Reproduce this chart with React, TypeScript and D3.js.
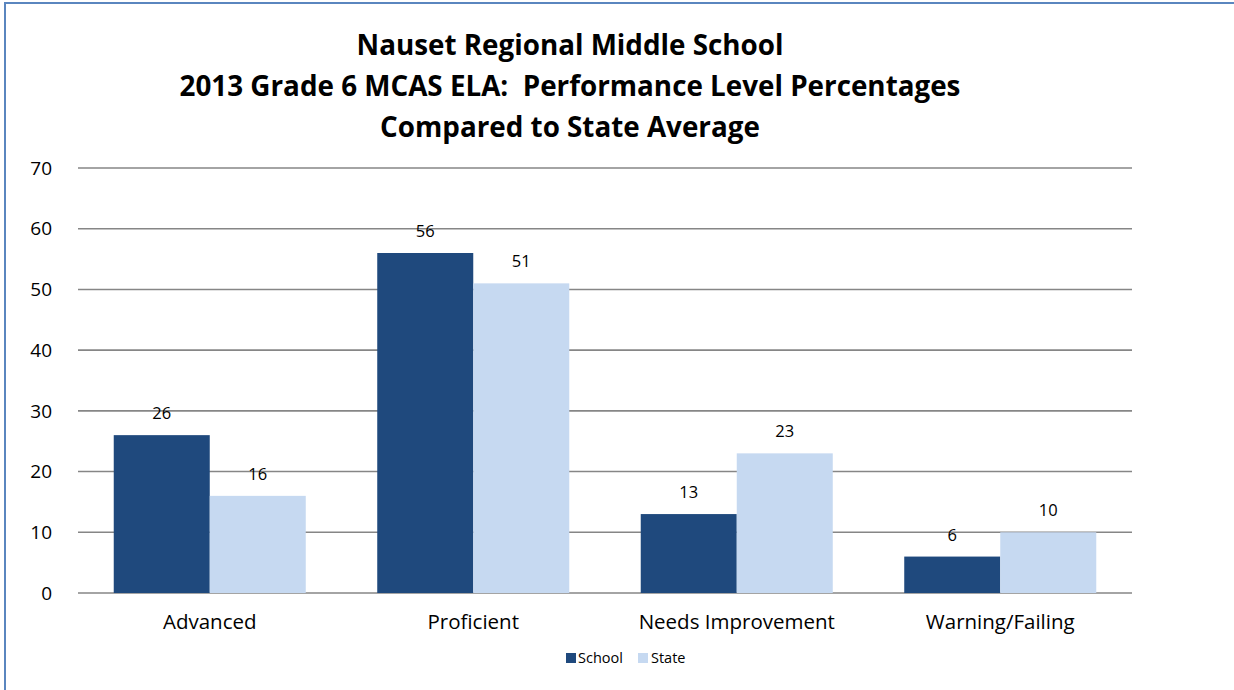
import React from 'react';
import * as d3 from 'd3';

const categories = ['Advanced', 'Proficient', 'Needs Improvement', 'Warning/Failing'];
const seriesNames = ['School', 'State'];
const schoolValues = [26, 56, 13, 6];
const stateValues = [16, 51, 23, 10];
const yTicks = [0, 10, 20, 30, 40, 50, 60, 70];
const titleLines = [
  'Nauset Regional Middle School',
  '2013 Grade 6 MCAS ELA:  Performance Level Percentages',
  'Compared to State Average',
];
const colors = ['#1F497D', '#C6D9F1'];

const width = 1234;
const height = 690;
const font = '"Open Sans", "Noto Sans", sans-serif';

const App = () => {
  const margin = { top: 168, right: 102, bottom: 97, left: 78 };

  const x = d3.scaleBand()
    .domain(categories)
    .range([margin.left, width - margin.right])
    .paddingInner(0.2713)
    .paddingOuter(0.2713 / 2);

  const xSub = d3.scaleBand()
    .domain(seriesNames)
    .range([0, x.bandwidth()]);

  const y = d3.scaleLinear()
    .domain([0, 70])
    .range([height - margin.bottom, margin.top]);

  const series = [schoolValues, stateValues];

  // frame only shows its left and top edges, the rest is cut off
  const frame = d3.path();
  frame.moveTo(5, height + 5);
  frame.lineTo(5, 3);
  frame.lineTo(width + 5, 3);

  return (
    <div style={{ position: 'fixed', left: 0, top: 0, width, height, overflow: 'hidden', background: '#fff' }}>
      <svg width={width} height={height} style={{ display: 'block' }}>
        <path d={frame.toString()} fill="none" stroke="#5A86BF" strokeWidth={2} />

        {/* title */}
        <g fontFamily={font} fontWeight="bold" fontSize={27.8} textAnchor="middle" fill="#000">
          {titleLines.map((t, i) => (
            <text key={i} x={570} y={55 + i * 41} style={{ whiteSpace: 'pre' }}>{t}</text>
          ))}
        </g>

        {/* gridlines + y labels */}
        {yTicks.map(t => (
          <g key={t}>
            <line x1={margin.left} x2={width - margin.right} y1={y(t)} y2={y(t)} stroke="#868686" strokeWidth={1.6} />
            <text x={52} y={y(t)} dy="0.35em" textAnchor="end" fontFamily={font} fontSize={19} fill="#000">{t}</text>
          </g>
        ))}

        {/* bars */}
        {series.map((vals, si) => (
          <g key={si} fill={colors[si]}>
            {vals.map((v, ci) => (
              <rect
                key={ci}
                x={x(categories[ci])! + xSub(seriesNames[si])!}
                y={y(v)}
                width={xSub.bandwidth()}
                height={y(0) - y(v)}
              />
            ))}
          </g>
        ))}

        {/* data labels */}
        {series.map((vals, si) => (
          <g key={'l' + si} fontFamily={font} fontSize={16.5} textAnchor="middle" fill="#000">
            {vals.map((v, ci) => (
              <text
                key={ci}
                x={x(categories[ci])! + xSub(seriesNames[si])! + xSub.bandwidth() / 2}
                y={y(v) - 16}
              >{v}</text>
            ))}
          </g>
        ))}

        {/* category labels */}
        {categories.map(c => (
          <text key={c} x={x(c)! + x.bandwidth() / 2} y={629} textAnchor="middle" fontFamily={font} fontSize={20.5} fill="#000">{c}</text>
        ))}

        {/* legend */}
        <g fontFamily={font} fontSize={14.5} fill="#000">
          <rect x={566} y={653} width={10} height={10} fill={colors[0]} />
          <text x={578} y={663}>{seriesNames[0]}</text>
          <rect x={638} y={653} width={10} height={10} fill={colors[1]} />
          <text x={651} y={663}>{seriesNames[1]}</text>
        </g>
      </svg>
    </div>
  );
};

export default App;
